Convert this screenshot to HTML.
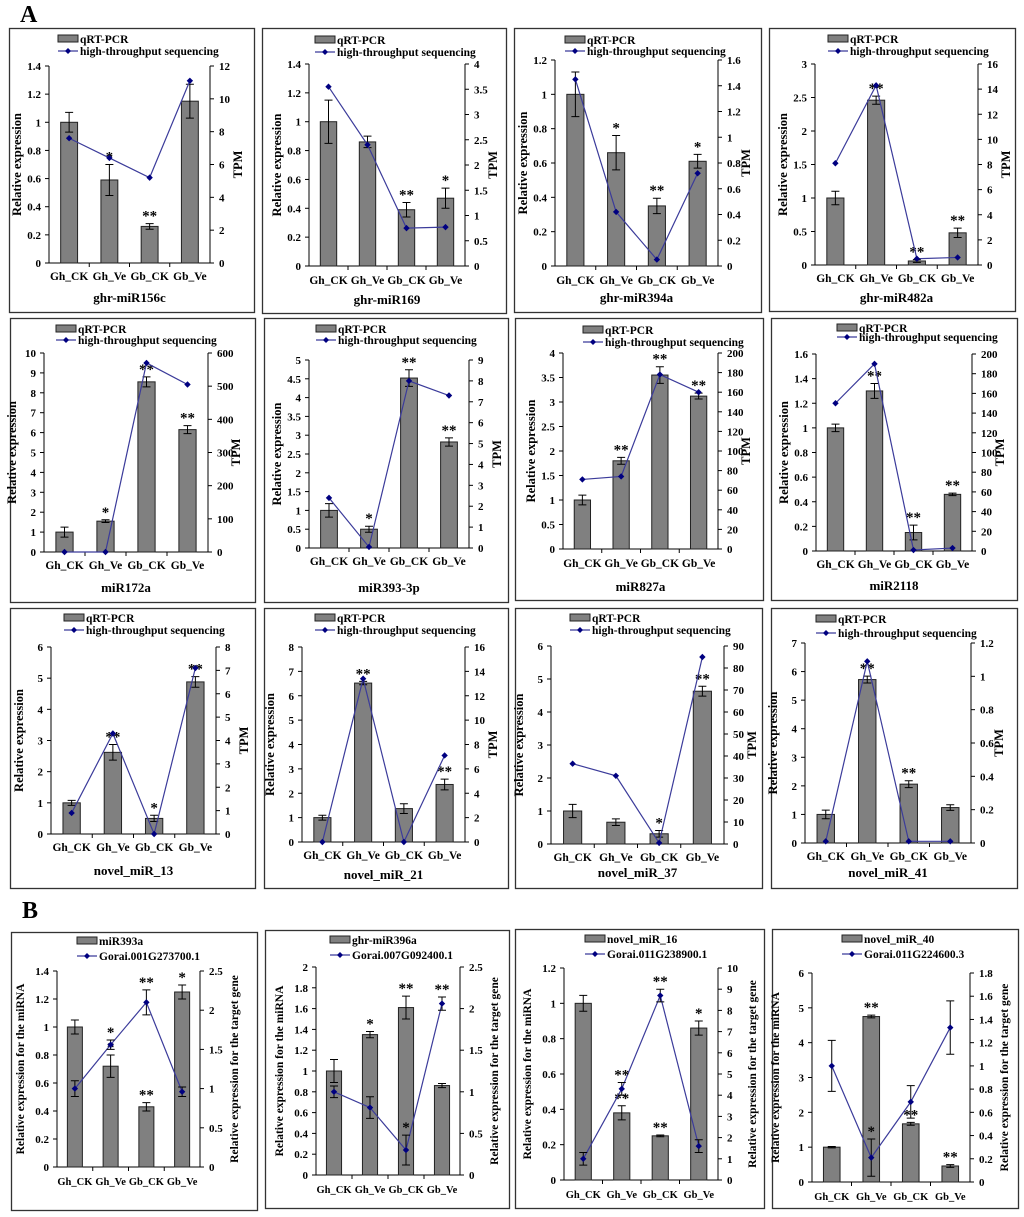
<!DOCTYPE html>
<html><head><meta charset="utf-8"><title>miRNA expression panels</title>
<style>
html,body{margin:0;padding:0;background:#fff;}
svg{display:block;}
text{font-family:"Liberation Serif",serif;font-weight:bold;fill:#000;}
</style></head>
<body>
<svg id="fig" width="1024" height="1217" viewBox="0 0 1024 1217" xmlns="http://www.w3.org/2000/svg">
<text x="20" y="22" font-size="24">A</text>
<text x="22" y="918" font-size="24">B</text>
</svg>
<script>
// ---- data ----
const categories = ["Gh_CK","Gh_Ve","Gb_CK","Gb_Ve"];
const panelTitles = ["ghr-miR156c","ghr-miR169","ghr-miR394a","ghr-miR482a","miR172a","miR393-3p","miR827a","miR2118","novel_miR_13","novel_miR_21","novel_miR_37","novel_miR_41","","","",""];
const barLegend = ["qRT-PCR","qRT-PCR","qRT-PCR","qRT-PCR","qRT-PCR","qRT-PCR","qRT-PCR","qRT-PCR","qRT-PCR","qRT-PCR","qRT-PCR","qRT-PCR","miR393a","ghr-miR396a","novel_miR_16","novel_miR_40"];
const lineLegend = ["high-throughput sequencing","high-throughput sequencing","high-throughput sequencing","high-throughput sequencing","high-throughput sequencing","high-throughput sequencing","high-throughput sequencing","high-throughput sequencing","high-throughput sequencing","high-throughput sequencing","high-throughput sequencing","high-throughput sequencing","Gorai.001G273700.1","Gorai.007G092400.1","Gorai.011G238900.1","Gorai.011G224600.3"];
const leftMax = [1.4,1.4,1.2,3,10,5,4,1.6,6,8,6,7,1.4,2,1.2,6];
const leftStep = [0.2,0.2,0.2,0.5,1,0.5,0.5,0.2,1,1,1,1,0.2,0.2,0.2,1];
const rightMax = [12,4,1.6,16,600,9,200,200,8,16,90,1.2,2.5,2.5,10,1.8];
const rightStep = [2,0.5,0.2,2,100,1,20,20,1,2,10,0.2,0.5,0.5,1,0.2];
const barValues = [
 [1,0.59,0.26,1.15],[1,0.86,0.39,0.47],[1,0.66,0.35,0.61],[1,2.46,0.06,0.48],
 [1,1.55,8.55,6.15],[1,0.5,4.52,2.82],[1,1.8,3.55,3.12],[1,1.3,0.15,0.46],
 [1,2.62,0.5,4.88],[1,6.52,1.37,2.36],[1,0.66,0.31,4.63],[1,5.72,2.06,1.24],
 [1,0.72,0.43,1.25],[1,1.35,1.61,0.86],[1,0.38,0.25,0.86],[1,4.75,1.67,0.46]];
const barErrors = [
 [0.07,0.11,0.02,0.12],[0.15,0.04,0.05,0.07],[0.13,0.1,0.045,0.04],[0.1,0.06,0.02,0.07],
 [0.25,0.07,0.25,0.2],[0.18,0.08,0.22,0.11],[0.1,0.07,0.17,0.06],[0.03,0.06,0.06,0.01],
 [0.08,0.25,0.1,0.17],[0.1,0.07,0.2,0.22],[0.2,0.1,0.1,0.15],[0.15,0.12,0.12,0.1],
 [0.05,0.08,0.03,0.05],[0.11,0.03,0.11,0.02],[0.045,0.04,0.005,0.04],[0.02,0.04,0.04,0.04]];
const lineValues = [
 [7.6,6.4,5.2,11.1],[3.55,2.4,0.75,0.77],[1.45,0.42,0.05,0.72],[8.1,14.3,0.5,0.6],
 [0,0,570,505],[2.4,0.05,8,7.3],[71,74,178,160],[150,190,1,3],
 [0.9,4.3,0,7.1],[0,13.4,0,7.1],[36.5,31,0.5,85],[0.01,1.09,0.01,0.01],
 [1.0,1.56,2.1,0.96],[1.0,0.81,0.3,2.06],[1,4.3,8.7,1.6],[1,0.21,0.69,1.33]];
const lineErrors = [
 null,null,null,null,null,null,null,null,null,null,null,null,
 [0.1,0.06,0.16,0.06],[0.07,0.13,0.18,0.08],[0.3,0.3,0.3,0.3],[0.22,0.16,0.14,0.23]];
const barStars = [
 ["","*","**",""],["","","**","*"],["","*","**","*"],["","**","**","**"],
 ["","*","**","**"],["","*","**","**"],["","**","**","**"],["","**","**","**"],
 ["","**","*","**"],["","**","","**"],["","","*","**"],["","**","**",""],
 ["","*","**","*"],["","*","**",""],["","**","**","*"],["","**","**","**"]];
const lineStars = [
 null,null,null,null,null,null,null,null,null,null,null,null,
 ["","*","**",""],["","","*","**"],["","**","**",""],["","*","",""]];

// ---- layout (pixel geometry, not data) ----
const layout = [
 [9,28,245,284, 49,210,66,263, 58,39,51,280,302],
 [262,28,244,285, 309,465,64,266, 315,40,52,284,304],
 [514,28,247,284, 555,718,60,266, 565,40,51,284,302],
 [769,28,246,283, 815,978,64,265, 828,39,51,282,302],
 [10,318,245,284, 44,208,353,552, 56,329,340,569,592],
 [264,318,244,284, 309,469,360,548, 316,329,340,565,592],
 [515,318,248,282, 563,718,353,549, 583,330,342,567,591],
 [771,318,246,282, 816,972,354,551, 837,328,337,568,590],
 [10,608,245,280, 51,216,647,834, 64,618,630,851,875],
 [264,608,244,280, 302,465,647,842, 315,618,630,859,879],
 [515,608,247,280, 551,724,646,844, 570,618,630,861,877],
 [771,608,246,280, 805,971,643,843, 816,619,633,860,877],
 [11,932,246,278, 57,200,971,1167, 77,941,956,1185,0],
 [265,930,244,278, 316,460,967,1175, 330,940,955,1193,0],
 [515,929,249,279, 564,718,968,1180, 585,939,954,1198,0],
 [772,929,246,279, 812,970,973,1182, 842,939,954,1200,0]];

const NS = "http://www.w3.org/2000/svg";
const svg = document.getElementById("fig");
function mk(tag, attrs, parent){
  const e = document.createElementNS(NS, tag);
  for (const k in attrs) e.setAttribute(k, attrs[k]);
  (parent||svg).appendChild(e);
  return e;
}
function fmt(v){ return String(Number(v.toFixed(3))); }
const LINE = "#3b3b9a", MARK = "#000080";

for (let p = 0; p < 16; p++) {
  const L = layout[p];
  const isB = p >= 12;
  const g = mk("g", {});
  
  
  const box = mk("rect", {x:L[0]+0.5, y:L[1]+0.5, width:L[2], height:L[3], fill:"#fff", stroke:"#333", "stroke-width":1.3}, g);
  
  
  const xl = L[4], xr = L[5], yt = L[6], yb = L[7];
  const yL = v => yb - (v / leftMax[p]) * (yb - yt);
  const yR = v => yb - (v / rightMax[p]) * (yb - yt);
  const slot = (xr - xl) / 4;
  const xc = i => xl + slot * (i + 0.5);

  const axes = mk("g", {stroke:"#000","stroke-width":1}, g);
  
  
  mk("line", {x1:xl, y1:yt, x2:xl, y2:yb}, axes);
  mk("line", {x1:xr, y1:yt, x2:xr, y2:yb}, axes);
  mk("line", {x1:xl, y1:yb, x2:xr, y2:yb}, axes);
  for (let i = 1; i < 4; i++) mk("line", {x1:xl+slot*i, y1:yb, x2:xl+slot*i, y2:yb+4}, axes);
  const nL = Math.round(leftMax[p] / leftStep[p]);
  for (let i = 0; i <= nL; i++) {
    const v = i * leftStep[p], y = yL(v);
    mk("line", {x1:xl-4, y1:y, x2:xl, y2:y}, axes);
    const t = mk("text", {x:xl-8, y:y+4, "font-size":11, "text-anchor":"end"}, g);
    t.textContent = fmt(v);
    
    
  }
  const nR = Math.round(rightMax[p] / rightStep[p]);
  for (let i = 0; i <= nR; i++) {
    const v = i * rightStep[p], y = yR(v);
    mk("line", {x1:xr, y1:y, x2:xr+4, y2:y}, axes);
    const t = mk("text", {x:xr+9, y:y+4, "font-size":11, "text-anchor":"start"}, g);
    t.textContent = fmt(v);
    
    
  }
  const ly = (yt + yb) / 2;
  const tfs = isB ? 11.5 : 12.5;
  const lt = mk("text", {x:0, y:0, "font-size":tfs, "text-anchor":"middle", transform:`translate(${xl-(isB?33:28)},${ly}) rotate(-90)`}, g);
  lt.textContent = isB ? "Relative expression for the miRNA" : "Relative expression";
  
  
  const rt = mk("text", {x:0, y:0, "font-size":tfs, "text-anchor":"middle", transform:`translate(${xr+(isB?38:32)},${ly}) rotate(-90)`}, g);
  rt.textContent = isB ? "Relative expression for the target gene" : "TPM";
  
  

  for (let i = 0; i < 4; i++) {
    const t = mk("text", {x:xc(i), y:L[11], "font-size":(isB?10.5:11.5), "text-anchor":"middle"}, g);
    t.textContent = categories[i];
    
    
  }
  if (panelTitles[p]) {
    const t = mk("text", {x:(xl+xr)/2, y:L[12], "font-size":13, "text-anchor":"middle"}, g);
    t.textContent = panelTitles[p];
    
    
  }

  const bw = slot * 0.42;
  for (let i = 0; i < 4; i++) {
    const v = barValues[p][i], e = barErrors[p][i];
    const r = mk("rect", {x:xc(i)-bw/2, y:yL(v), width:bw, height:yb-yL(v), fill:"#808080", stroke:"#222", "stroke-width":1}, g);
    
    
    const eb = mk("path", {d:`M${xc(i)},${yL(v+e)}V${yL(v-e)}M${xc(i)-4},${yL(v+e)}h8M${xc(i)-4},${yL(v-e)}h8`, stroke:"#000", "stroke-width":1, fill:"none"}, g);
    
    
    if (barStars[p][i]) {
      const s = mk("text", {x:xc(i), y:yL(v+e)-3, "font-size":15, "font-weight":"normal", "text-anchor":"middle"}, g);
      s.textContent = barStars[p][i];
      
      
    }
  }
  let d = "";
  for (let i = 0; i < 4; i++) d += (i ? "L" : "M") + xc(i) + "," + yR(lineValues[p][i]);
  const pl = mk("path", {d:d, stroke:LINE, "stroke-width":1.2, fill:"none"}, g);
  
  
  for (let i = 0; i < 4; i++) {
    const v = lineValues[p][i], x = xc(i), y = yR(v);
    if (lineErrors[p]) {
      const e = lineErrors[p][i];
      const eb = mk("path", {d:`M${x},${yR(v+e)}V${yR(Math.max(0,v-e))}M${x-4},${yR(v+e)}h8M${x-4},${yR(Math.max(0,v-e))}h8`, stroke:"#000", "stroke-width":1, fill:"none"}, g);
      
      
      if (lineStars[p][i]) {
        const s = mk("text", {x:x, y:yR(v+e)-3, "font-size":15, "font-weight":"normal", "text-anchor":"middle"}, g);
        s.textContent = lineStars[p][i];
        
        
      }
    }
    const m = mk("path", {d:`M${x},${y-3.2}L${x+3.2},${y}L${x},${y+3.2}L${x-3.2},${y}Z`, fill:MARK}, g);
    
    
  }

  const lx = L[8];
  const sw = mk("rect", {x:lx, y:L[9]-4, width:20, height:7, fill:"#808080", stroke:"#222", "stroke-width":1}, g);
  
  
  const t1 = mk("text", {x:lx+22, y:L[9]+4, "font-size":11.5}, g);
  t1.textContent = barLegend[p];
  
  
  const sl = mk("line", {x1:lx, y1:L[10], x2:lx+20, y2:L[10], stroke:LINE, "stroke-width":1.2}, g);
  
  
  mk("path", {d:`M${lx+10},${L[10]-3}l3,3l-3,3l-3,-3Z`, fill:MARK}, g);
  const t2 = mk("text", {x:lx+22, y:L[10]+4, "font-size":11.5}, g);
  t2.textContent = lineLegend[p];
  
  
}
</script>
</body></html>
